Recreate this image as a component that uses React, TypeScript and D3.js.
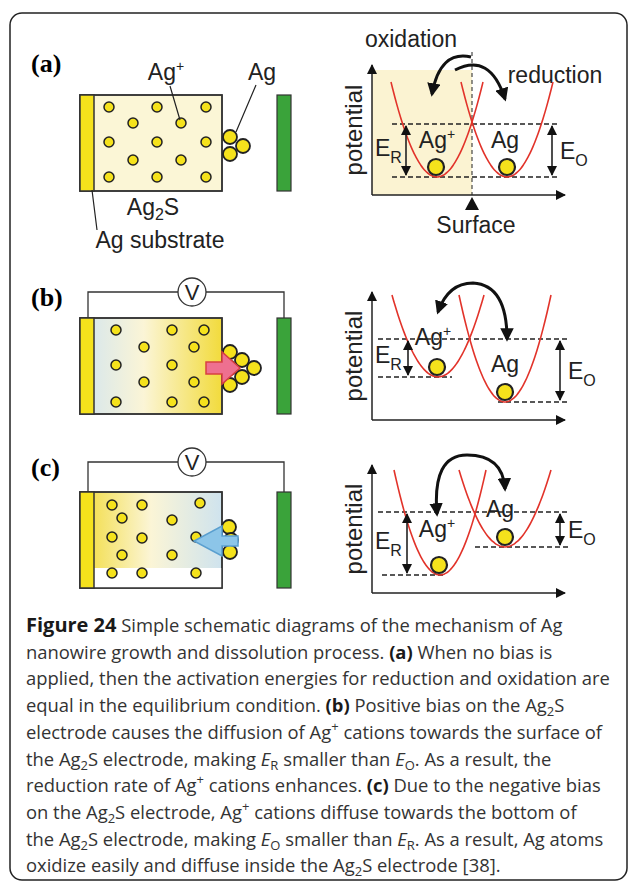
import React from "react";
import * as d3 from "d3";

// ions inside the Ag2S box, box-relative positions
const ionsA = [[29,12],[77,12],[126,12],[53,28],[101,28],[29,47],[77,47],[126,47],[53,65],[101,65],[29,82],[77,82],[126,82]];
const ionsB = [[36,12],[92,12],[124,12],[64,29],[114,29],[36,47],[92,47],[64,64],[114,64],[36,84],[92,84],[124,84]];
const ionsC = [[32,13],[62,13],[120,11],[42,26],[92,28],[32,45],[62,46],[116,45],[42,63],[92,63],[32,81],[62,81],[116,81]];
// Ag atoms on the surface, absolute
const clusterA = [[230,137],[243,146],[230,154]];
const clusterB = [[230,352],[242,360],[254,368],[242,377],[230,385],[230,368]];
const clusterC = [[229,527],[231,540],[230,552]];

// potential wells in graph units: x of well bottom, potential of bottom; arm top potential
const panels = [
  { key: "a", axisY: 195, yTop: 130, wells: [[65, 18], [135, 18]], armTop: 113, upper: 71, upperX: [20, 188],
    lowL: 18, lowLX: [20, 188], lowR: 18, lowRX: null, lblL: [65, 47], lblR: [133, 47], eL: 34, eR: 180, label: "(a)", labelY: 72 },
  { key: "b", axisY: 420, yTop: 128, wells: [[66, 43], [133, 18]], armTop: 125, upper: 81, upperX: [6, 198],
    lowL: 43, lowLX: [6, 80], lowR: 18, lowRX: [126, 198], lblL: [61, 75], lblR: [133, 48], eL: 36, eR: 188, label: "(b)", labelY: 306 },
  { key: "c", axisY: 593, yTop: 128, wells: [[68, 18], [133, 46]], armTop: 123, upper: 81, upperX: [6, 198],
    lowL: 18, lowLX: [10, 73], lowR: 46, lowRX: [103, 198], lblL: [65, 56], lblR: [128, 76], eL: 35, eR: 188, label: "(c)", labelY: 476 },
];

const captionLines = [
  [["b", "Figure 24"], ["", " Simple schematic diagrams of the mechanism of Ag"]],
  [["", "nanowire growth and dissolution process. "], ["b", "(a)"], ["", " When no bias is"]],
  [["", "applied, then the activation energies for reduction and oxidation are"]],
  [["", "equal in the equilibrium condition. "], ["b", "(b)"], ["", " Positive bias on the Ag"], ["sub", "2"], ["", "S"]],
  [["", "electrode causes the diffusion of Ag"], ["sup", "+"], ["", " cations towards the surface of"]],
  [["", "the Ag"], ["sub", "2"], ["", "S electrode, making "], ["i", "E"], ["sub", "R"], ["", " smaller than "], ["i", "E"], ["sub", "O"], ["", ". As a result, the"]],
  [["", "reduction rate of Ag"], ["sup", "+"], ["", " cations enhances. "], ["b", "(c)"], ["", " Due to the negative bias"]],
  [["", "on the Ag"], ["sub", "2"], ["", "S electrode, Ag"], ["sup", "+"], ["", " cations diffuse towards the bottom of"]],
  [["", "the Ag"], ["sub", "2"], ["", "S electrode, making "], ["i", "E"], ["sub", "O"], ["", " smaller than "], ["i", "E"], ["sub", "R"], ["", ". As a result, Ag atoms"]],
  [["", "oxidize easily and diffuse inside the Ag"], ["sub", "2"], ["", "S electrode [38]."]],
];

const SANS = "'Liberation Sans', Arial, sans-serif";
const YEL = "#f5e21c";
const FS = 23;

const well = (x0: number, p0: number, top: number) => {
  const k = (top - p0) / (46 * 46);
  return d3.range(-46, 46.5, 2).map((dx) => [x0 + dx, p0 + k * dx * dx]);
};

const Box = ({ top, kind, ions }: any) => {
  const x = d3.scaleLinear().domain([0, 142]).range([80, 222]);
  const y = d3.scaleLinear().domain([0, 96]).range([top, top + 96]);
  return (
    <g>
      <rect x={80} y={top} width={142} height={96} fill={kind === "a" ? "#fbf6d6" : `url(#g${kind})`} stroke="#333" strokeWidth={1.5} />
      {kind === "c" && <rect x={94} y={top + 76} width={128} height={20} fill="#fff" />}
      <rect x={80} y={top} width={142} height={96} fill="none" stroke="#333" strokeWidth={1.5} />
      <rect x={80} y={top} width={14} height={96} fill={YEL} stroke="#333" strokeWidth={1.5} />
      {ions.map((d: number[], i: number) => (
        <circle key={i} cx={x(d[0])} cy={y(d[1])} r={5} fill={YEL} stroke="#222" strokeWidth={1.5} />
      ))}
      <rect x={277} y={top} width={14} height={96} fill="#3aa33a" stroke="#333" strokeWidth={1.2} />
    </g>
  );
};

const Graph = ({ p }: any) => {
  const x = d3.scaleLinear().domain([0, 200]).range([372, 572]);
  const y = d3.scaleLinear().domain([0, 100]).range([p.axisY, p.axisY - 100]);
  const line = d3.line().x((d: any) => x(d[0])).y((d: any) => y(d[1])).curve(d3.curveBasis);
  const [wl, wr] = p.wells;
  const dash = "5 3";
  const hline = (pot: number, xs: number[], k: string) => (
    <line key={k} x1={x(xs[0])} x2={x(xs[1])} y1={y(pot)} y2={y(pot)} stroke="#222" strokeWidth={1.6} strokeDasharray={dash} />
  );
  return (
    <g fontFamily={SANS} fill="#222">
      {p.key === "a" && <rect x={x(0)} y={y(p.yTop - 5)} width={x(100) - x(0)} height={y(0) - y(p.yTop - 5)} fill="#fbf3d2" />}
      {p.key === "a" && <line x1={x(100)} x2={x(100)} y1={y(143)} y2={y(0)} stroke="#222" strokeDasharray="4 3" />}
      <line x1={x(0)} x2={x(0)} y1={y(0)} y2={y(p.yTop)} stroke="#222" strokeWidth={1.5} markerEnd="url(#tri)" />
      <line x1={x(0)} x2={x(193)} y1={y(0)} y2={y(0)} stroke="#222" strokeWidth={1.5} markerEnd="url(#tri)" />
      <text transform={`translate(${x(-10)},${y(p.yTop / 2)}) rotate(-90)`} textAnchor="middle" fontSize={24}>potential</text>
      {hline(p.upper, p.upperX, "u")}
      {hline(p.lowL, p.lowLX, "l")}
      {p.lowRX && hline(p.lowR, p.lowRX, "r")}
      <path d={line(well(wl[0], wl[1], p.armTop) as any) as string} fill="none" stroke="#e2332a" strokeWidth={1.6} />
      <path d={line(well(wr[0], wr[1], p.armTop) as any) as string} fill="none" stroke="#e2332a" strokeWidth={1.6} />
      <circle cx={x(wl[0] - 1)} cy={y(wl[1]) - 10} r={8} fill={YEL} stroke="#222" strokeWidth={2.2} />
      <circle cx={x(wr[0])} cy={y(wr[1]) - 10} r={8} fill={YEL} stroke="#222" strokeWidth={2.2} />
      <text x={x(p.lblL[0])} y={y(p.lblL[1])} textAnchor="middle" fontSize={FS}>Ag<tspan fontSize={14} dy={-9}>+</tspan></text>
      <text x={x(p.lblR[0])} y={y(p.lblR[1])} textAnchor="middle" fontSize={FS}>Ag</text>
      <line x1={x(p.eL)} x2={x(p.eL)} y1={y(p.upper) + 2} y2={y(p.lowL) - 2} stroke="#222" strokeWidth={1.6} markerStart="url(#tri)" markerEnd="url(#tri)" />
      <text x={x(3)} y={(y(p.upper) + y(p.lowL)) / 2 + 5} fontSize={FS}>E<tspan fontSize={16} dy={7}>R</tspan></text>
      <line x1={x(p.eR)} x2={x(p.eR)} y1={y(p.upper) + 2} y2={y(p.lowR) - 2} stroke="#222" strokeWidth={1.6} markerStart="url(#tri)" markerEnd="url(#tri)" />
      <text x={x(p.eR + 8)} y={(y(p.upper) + y(p.lowR)) / 2 + 8} fontSize={FS}>E<tspan fontSize={16} dy={7}>O</tspan></text>
    </g>
  );
};

const Circuit = ({ top, vy }: any) => (
  <g fill="none" stroke="#333" strokeWidth={1.3}>
    <path d={`M88,${top} V${vy} H178 M206,${vy} H284 V${top}`} />
    <circle cx={192} cy={vy} r={14} fill="#fff" />
    <text x={192} y={vy + 8} textAnchor="middle" fontSize={22} fontFamily={SANS} fill="#222" stroke="none">V</text>
  </g>
);

const App = () => (
  <svg width={629} height={883} style={{ position: "absolute", left: 0, top: 0 }}>
    <defs>
      <marker id="tri" viewBox="0 0 10 10" refX={9} refY={5} markerWidth={10} markerHeight={10} markerUnits="userSpaceOnUse" orient="auto-start-reverse">
        <path d="M0,0 L10,5 L0,10 z" fill="#111" />
      </marker>
      <marker id="ah" viewBox="0 0 10 10" refX={8} refY={5} markerWidth={4.5} markerHeight={4.5} orient="auto-start-reverse">
        <path d="M0,0 L10,5 L0,10 z" fill="#111" />
      </marker>
      <linearGradient id="gb" x1="0" x2="1">
        <stop offset="0" stopColor="#d3e5ef" />
        <stop offset="0.45" stopColor="#fbf5d6" />
        <stop offset="1" stopColor="#f2db3c" />
      </linearGradient>
      <linearGradient id="gc" x1="0" x2="1">
        <stop offset="0" stopColor="#f2db3c" />
        <stop offset="0.5" stopColor="#fbf5d6" />
        <stop offset="1" stopColor="#cfe3ee" />
      </linearGradient>
    </defs>
    <rect x={10} y={13} width={617} height={867} rx={12} fill="#fff" stroke="#222" strokeWidth={1.5} />

    {panels.map((p) => (
      <text key={p.key} x={31} y={p.labelY} fontFamily="'Liberation Serif', serif" fontWeight="bold" fontSize={26}>{p.label}</text>
    ))}

    {/* panel a */}
    <Box top={95} kind="a" ions={ionsA} />
    {clusterA.map((d, i) => <circle key={i} cx={d[0]} cy={d[1]} r={7} fill={YEL} stroke="#222" strokeWidth={1.8} />)}
    <g fontFamily={SANS} fontSize={FS} fill="#222">
      <text x={166} y={80} textAnchor="middle">Ag<tspan fontSize={14} dy={-9}>+</tspan></text>
      <text x={262} y={80} textAnchor="middle">Ag</text>
      <text x={153} y={215} textAnchor="middle">Ag<tspan fontSize={16} dy={5}>2</tspan><tspan dy={-5}>S</tspan></text>
      <text x={160} y={248} textAnchor="middle">Ag substrate</text>
      <text x={411} y={47} textAnchor="middle">oxidation</text>
      <text x={555} y={83} textAnchor="middle">reduction</text>
      <text x={476} y={233} textAnchor="middle">Surface</text>
    </g>
    <path d="M170,86 L180,120 M256,85 L236,132 M92,190 L97,230" stroke="#222" strokeWidth={1.2} fill="none" />
    <path d="M472,197 L479,210 L465,210 z" fill="#111" />
    <Graph p={panels[0]} />
    <path d="M471,57 Q440,50 432,94" fill="none" stroke="#111" strokeWidth={3} markerEnd="url(#ah)" />
    <path d="M455,70 Q490,52 505,99" fill="none" stroke="#111" strokeWidth={3} markerEnd="url(#ah)" />

    {/* panel b */}
    <Circuit top={318} vy={292} />
    <Box top={318} kind="b" ions={ionsB} />
    {clusterB.map((d, i) => <circle key={i} cx={d[0]} cy={d[1]} r={7} fill={YEL} stroke="#222" strokeWidth={1.8} />)}
    <path d="M206,362 H222 V352 L240,368 L222,384 V374 H206 z" fill="#ee7090" stroke="#d84040" strokeWidth={1.5} />
    <Graph p={panels[1]} />
    <path d="M438,312 Q448,283 473,283 Q507,285 507,339" fill="none" stroke="#111" strokeWidth={3} markerStart="url(#ah)" markerEnd="url(#ah)" />

    {/* panel c */}
    <Circuit top={492} vy={462} />
    <Box top={492} kind="c" ions={ionsC} />
    {clusterC.map((d, i) => <circle key={i} cx={d[0]} cy={d[1]} r={7} fill={YEL} stroke="#222" strokeWidth={1.8} />)}
    <path d="M238,536 H222 V526 L194,541 L222,556 V546 H238 z" fill="#8cc5e8" stroke="#5a9fcf" strokeWidth={1.5} />
    <Graph p={panels[2]} />
    <path d="M437,514 Q432,455 467,455 Q503,455 505,489" fill="none" stroke="#111" strokeWidth={3} markerStart="url(#ah)" markerEnd="url(#ah)" />

    {/* caption */}
    <g fontFamily="'Open Sans', sans-serif" fontSize={18.4} fill="#333">
      {captionLines.map((ln, i) => (
        <text key={i} x={26} y={632 + i * 26.7}>
          {ln.map(([k, s], j) => {
            if (k === "b") return <tspan key={j} fontWeight="bold" fill="#1a1a1a" fontSize={s.startsWith("F") ? 20 : 18.4}>{s}</tspan>;
            if (k === "i") return <tspan key={j} fontStyle="italic">{s}</tspan>;
            if (k === "sub") return <tspan key={j} fontSize={13} dy={4}>{s}</tspan>;
            if (k === "sup") return <tspan key={j} fontSize={13} dy={-8}>{s}</tspan>;
            const prev = j > 0 ? ln[j - 1][0] : "";
            const dy = prev === "sub" ? -4 : prev === "sup" ? 8 : 0;
            return <tspan key={j} dy={dy}>{s}</tspan>;
          })}
        </text>
      ))}
    </g>
  </svg>
);

export default App;
